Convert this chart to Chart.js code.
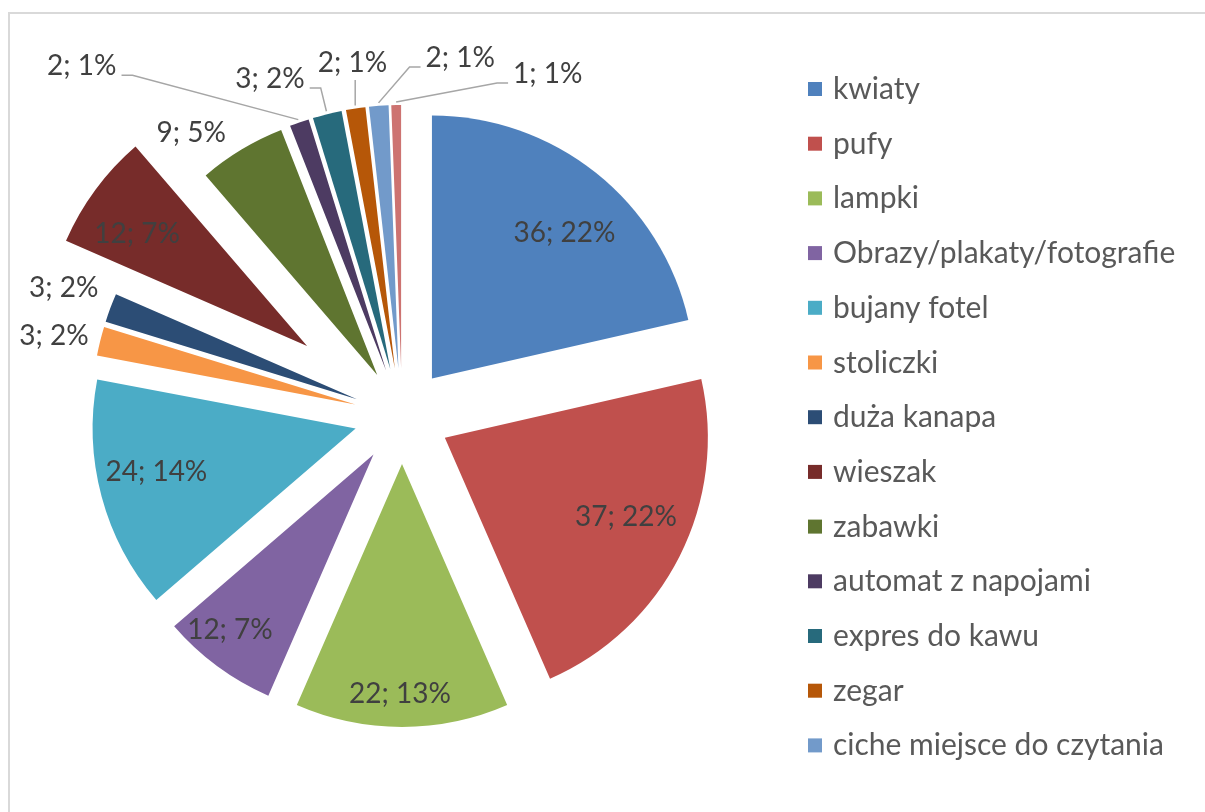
<!DOCTYPE html>
<html><head><meta charset="utf-8">
<script src="https://cdn.jsdelivr.net/npm/chart.js@4/dist/chart.umd.min.js"></script>
<style>html,body{margin:0;padding:0;background:#fff;}#wrap{width:1205px;height:812px;position:relative;}</style>
</head><body><div id="wrap"><canvas id="c" width="1205" height="812"></canvas></div>
<script>
const categories = ['kwiaty','pufy','lampki','Obrazy/plakaty/fotografie','bujany fotel','stoliczki','duża kanapa','wieszak','zabawki','automat z napojami','expres do kawu','zegar','ciche miejsce do czytania',''];
const values = [36,37,22,12,24,3,3,12,9,2,3,2,2,1];
const percents = [22,22,13,7,14,2,2,7,5,1,2,1,1,1];
const colors = ['#4F81BD','#C0504D','#9BBB59','#8064A2','#4BACC6','#F79646','#2C4D75','#772C2A','#5F7530','#4D3B62','#276A7C','#B65708','#729ACA','#CD7371'];
const legendCount = 13;

// slice explosion (px along bisector)
const explodeBy = [48,48,48,48,48,48,48,118,48,48,48,48,48,48];

// label placement: [distance from pie centre as fraction of radius, angle shift (deg) from slice middle, leader side]
const labelPlacement = [
  [0.933, 2.9, null],[0.933, -2.7, null],[1.053, 0.4, null],[1.041, 2.5, null],[0.957, 2.4, null],
  [1.359, -0.8, null],[1.376, 0.5, null],[1.224, -1.8, null],[1.345, -5.5, null],
  [1.806, -23.1, 'right'],[1.380, -7.4, 'right'],[1.359, 0.6, 'bottom'],[1.383, 13.5, 'left'],[1.417, 24.1, 'left']
];

const RADIUS = 263;
const LABEL_FONT = '28px Lato';
const LEGEND_FONT = '30px Lato';

let chart;

// exploded slices: translate each arc along its bisector
const origDraw = Chart.ArcElement.prototype.draw;
Chart.ArcElement.prototype.draw = function(ctx, area) {
  const idx = chart ? chart.getDatasetMeta(0).data.indexOf(this) : -1;
  const d = idx >= 0 ? explodeBy[idx] : 0;
  const half = (this.startAngle + this.endAngle) / 2;
  ctx.save();
  ctx.translate(Math.cos(half) * d, Math.sin(half) * d);
  origDraw.call(this, ctx, area);
  ctx.restore();
};

const framePlugin = {
  id: 'frame',
  beforeDraw(c) {
    const ctx = c.ctx;
    ctx.save();
    ctx.fillStyle = '#fff';
    ctx.fillRect(0, 0, c.width, c.height);
    ctx.fillStyle = '#D9D9D9';
    ctx.fillRect(8, 12, c.width - 8, 2);
    ctx.fillRect(8, 12, 2, c.height - 12);
    ctx.restore();
  }
};

const labelPlugin = {
  id: 'sliceLabels',
  afterDatasetsDraw(c) {
    const ctx = c.ctx;
    const arcs = c.getDatasetMeta(0).data;
    ctx.save();
    ctx.font = LABEL_FONT;
    ctx.textBaseline = 'alphabetic';
    ctx.textAlign = 'center';
    arcs.forEach((arc, i) => {
      const mid = (arc.startAngle + arc.endAngle) / 2;
      const [f, dDeg, side] = labelPlacement[i];
      const a = mid + dDeg * Math.PI / 180;
      const r = arc.outerRadius * f;
      const tx = arc.x + Math.cos(a) * r;
      const ty = arc.y + Math.sin(a) * r;
      const text = values[i] + '; ' + percents[i] + '%';
      const w = ctx.measureText(text).width;
      const base = ty + 10;
      if (side) {
        const er = explodeBy[i] + arc.outerRadius + 3;
        const ex = arc.x + Math.cos(mid) * er;
        const ey = arc.y + Math.sin(mid) * er;
        ctx.strokeStyle = '#A6A6A6';
        ctx.lineWidth = 1.5;
        ctx.beginPath();
        if (side === 'right') {
          const sx = tx + w / 2 + 5;
          ctx.moveTo(sx, base); ctx.lineTo(sx + 11, base); ctx.lineTo(ex, ey);
        } else if (side === 'left') {
          const sx = tx - w / 2 - 5;
          ctx.moveTo(sx, base); ctx.lineTo(sx - 11, base); ctx.lineTo(ex, ey);
        } else {
          ctx.moveTo(ex, base + 8); ctx.lineTo(ex, ey);
        }
        ctx.stroke();
      }
      ctx.fillStyle = '#404040';
      ctx.fillText(text, tx, base);
    });
    ctx.restore();
  }
};

const legendPlugin = {
  id: 'sideLegend',
  afterDraw(c) {
    const ctx = c.ctx;
    ctx.save();
    ctx.font = LEGEND_FONT;
    ctx.textBaseline = 'alphabetic';
    ctx.textAlign = 'left';
    for (let i = 0; i < legendCount; i++) {
      const y = 89 + i * 54.7;
      ctx.fillStyle = colors[i];
      ctx.fillRect(808, y - 7, 14, 14);
      ctx.fillStyle = '#595959';
      ctx.fillText(categories[i], 833, y + 10);
    }
    ctx.restore();
  }
};

chart = new Chart(document.getElementById('c'), {
  type: 'pie',
  data: {
    labels: categories,
    datasets: [{
      data: values,
      backgroundColor: colors,
      borderWidth: 0,
      hoverOffset: 0,
      offset: 0
    }]
  },
  options: {
    responsive: false,
    animation: false,
    devicePixelRatio: 1,
    radius: RADIUS,
    layout: { padding: { left: 0, right: 401, top: 20, bottom: 0 } },
    plugins: { legend: { display: false }, tooltip: { enabled: false } }
  },
  plugins: [framePlugin, labelPlugin, legendPlugin]
});
chart.draw();
</script>
</body></html>
